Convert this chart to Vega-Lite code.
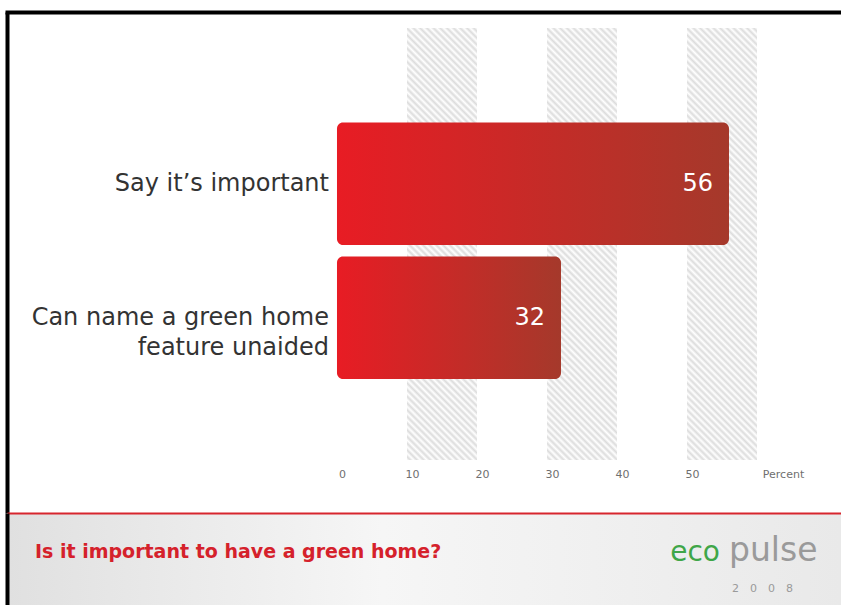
{
  "$schema": "https://vega.github.io/schema/vega-lite/v6.json",
  "padding": {"left": 7, "top": 12, "right": 0, "bottom": 0},
  "background": "#ffffff",
  "spacing": 0,
  "config": {"view": {"stroke": null}, "font": "DejaVu Sans", "concat": {"spacing": 0}},
  "datasets": {
    "bars": [
      {"label": "Say it’s important", "value": 56},
      {"label": "Can name a green home\nfeature unaided", "value": 32}
    ],
    "bands": [
      {"lo": 10, "hi": 20},
      {"lo": 30, "hi": 40},
      {"lo": 50, "hi": 60}
    ]
  },
  "vconcat": [
    {
      "width": 834,
      "height": 501,
      "resolve": {"axis": {"x": "independent"}},
      "layer": [
        {
          "data": {"name": "bands"},
          "mark": {
            "type": "rect",
            "fill": {"gradient": "linear", "x1": 0, "y1": 1, "x2": 0.1835, "y2": -0.1323, "stops": [
              {"offset": 0, "color": "#ffffff"}, {"offset": 0.0067, "color": "#dcdcdc"}, {"offset": 0.0133, "color": "#ffffff"}, {"offset": 0.02, "color": "#dcdcdc"}, {"offset": 0.0267, "color": "#ffffff"}, {"offset": 0.0333, "color": "#dcdcdc"}, {"offset": 0.04, "color": "#ffffff"}, {"offset": 0.0467, "color": "#dcdcdc"}, {"offset": 0.0533, "color": "#ffffff"}, {"offset": 0.06, "color": "#dcdcdc"}, {"offset": 0.0667, "color": "#ffffff"}, {"offset": 0.0733, "color": "#dcdcdc"}, {"offset": 0.08, "color": "#ffffff"}, {"offset": 0.0867, "color": "#dcdcdc"}, {"offset": 0.0933, "color": "#ffffff"}, {"offset": 0.1, "color": "#dcdcdc"}, {"offset": 0.1067, "color": "#ffffff"}, {"offset": 0.1133, "color": "#dcdcdc"}, {"offset": 0.12, "color": "#ffffff"}, {"offset": 0.1267, "color": "#dcdcdc"}, {"offset": 0.1333, "color": "#ffffff"}, {"offset": 0.14, "color": "#dcdcdc"}, {"offset": 0.1467, "color": "#ffffff"}, {"offset": 0.1533, "color": "#dcdcdc"}, {"offset": 0.16, "color": "#ffffff"}, {"offset": 0.1667, "color": "#dcdcdc"}, {"offset": 0.1733, "color": "#ffffff"}, {"offset": 0.18, "color": "#dcdcdc"}, {"offset": 0.1867, "color": "#ffffff"}, {"offset": 0.1933, "color": "#dcdcdc"},
              {"offset": 0.2, "color": "#ffffff"}, {"offset": 0.2067, "color": "#dcdcdc"}, {"offset": 0.2133, "color": "#ffffff"}, {"offset": 0.22, "color": "#dcdcdc"}, {"offset": 0.2267, "color": "#ffffff"}, {"offset": 0.2333, "color": "#dcdcdc"}, {"offset": 0.24, "color": "#ffffff"}, {"offset": 0.2467, "color": "#dcdcdc"}, {"offset": 0.2533, "color": "#ffffff"}, {"offset": 0.26, "color": "#dcdcdc"}, {"offset": 0.2667, "color": "#ffffff"}, {"offset": 0.2733, "color": "#dcdcdc"}, {"offset": 0.28, "color": "#ffffff"}, {"offset": 0.2867, "color": "#dcdcdc"}, {"offset": 0.2933, "color": "#ffffff"}, {"offset": 0.3, "color": "#dcdcdc"}, {"offset": 0.3067, "color": "#ffffff"}, {"offset": 0.3133, "color": "#dcdcdc"}, {"offset": 0.32, "color": "#ffffff"}, {"offset": 0.3267, "color": "#dcdcdc"}, {"offset": 0.3333, "color": "#ffffff"}, {"offset": 0.34, "color": "#dcdcdc"}, {"offset": 0.3467, "color": "#ffffff"}, {"offset": 0.3533, "color": "#dcdcdc"}, {"offset": 0.36, "color": "#ffffff"}, {"offset": 0.3667, "color": "#dcdcdc"}, {"offset": 0.3733, "color": "#ffffff"}, {"offset": 0.38, "color": "#dcdcdc"}, {"offset": 0.3867, "color": "#ffffff"}, {"offset": 0.3933, "color": "#dcdcdc"},
              {"offset": 0.4, "color": "#ffffff"}, {"offset": 0.4067, "color": "#dcdcdc"}, {"offset": 0.4133, "color": "#ffffff"}, {"offset": 0.42, "color": "#dcdcdc"}, {"offset": 0.4267, "color": "#ffffff"}, {"offset": 0.4333, "color": "#dcdcdc"}, {"offset": 0.44, "color": "#ffffff"}, {"offset": 0.4467, "color": "#dcdcdc"}, {"offset": 0.4533, "color": "#ffffff"}, {"offset": 0.46, "color": "#dcdcdc"}, {"offset": 0.4667, "color": "#ffffff"}, {"offset": 0.4733, "color": "#dcdcdc"}, {"offset": 0.48, "color": "#ffffff"}, {"offset": 0.4867, "color": "#dcdcdc"}, {"offset": 0.4933, "color": "#ffffff"}, {"offset": 0.5, "color": "#dcdcdc"}, {"offset": 0.5067, "color": "#ffffff"}, {"offset": 0.5133, "color": "#dcdcdc"}, {"offset": 0.52, "color": "#ffffff"}, {"offset": 0.5267, "color": "#dcdcdc"}, {"offset": 0.5333, "color": "#ffffff"}, {"offset": 0.54, "color": "#dcdcdc"}, {"offset": 0.5467, "color": "#ffffff"}, {"offset": 0.5533, "color": "#dcdcdc"}, {"offset": 0.56, "color": "#ffffff"}, {"offset": 0.5667, "color": "#dcdcdc"}, {"offset": 0.5733, "color": "#ffffff"}, {"offset": 0.58, "color": "#dcdcdc"}, {"offset": 0.5867, "color": "#ffffff"}, {"offset": 0.5933, "color": "#dcdcdc"},
              {"offset": 0.6, "color": "#ffffff"}, {"offset": 0.6067, "color": "#dcdcdc"}, {"offset": 0.6133, "color": "#ffffff"}, {"offset": 0.62, "color": "#dcdcdc"}, {"offset": 0.6267, "color": "#ffffff"}, {"offset": 0.6333, "color": "#dcdcdc"}, {"offset": 0.64, "color": "#ffffff"}, {"offset": 0.6467, "color": "#dcdcdc"}, {"offset": 0.6533, "color": "#ffffff"}, {"offset": 0.66, "color": "#dcdcdc"}, {"offset": 0.6667, "color": "#ffffff"}, {"offset": 0.6733, "color": "#dcdcdc"}, {"offset": 0.68, "color": "#ffffff"}, {"offset": 0.6867, "color": "#dcdcdc"}, {"offset": 0.6933, "color": "#ffffff"}, {"offset": 0.7, "color": "#dcdcdc"}, {"offset": 0.7067, "color": "#ffffff"}, {"offset": 0.7133, "color": "#dcdcdc"}, {"offset": 0.72, "color": "#ffffff"}, {"offset": 0.7267, "color": "#dcdcdc"}, {"offset": 0.7333, "color": "#ffffff"}, {"offset": 0.74, "color": "#dcdcdc"}, {"offset": 0.7467, "color": "#ffffff"}, {"offset": 0.7533, "color": "#dcdcdc"}, {"offset": 0.76, "color": "#ffffff"}, {"offset": 0.7667, "color": "#dcdcdc"}, {"offset": 0.7733, "color": "#ffffff"}, {"offset": 0.78, "color": "#dcdcdc"}, {"offset": 0.7867, "color": "#ffffff"}, {"offset": 0.7933, "color": "#dcdcdc"},
              {"offset": 0.8, "color": "#ffffff"}, {"offset": 0.8067, "color": "#dcdcdc"}, {"offset": 0.8133, "color": "#ffffff"}, {"offset": 0.82, "color": "#dcdcdc"}, {"offset": 0.8267, "color": "#ffffff"}, {"offset": 0.8333, "color": "#dcdcdc"}, {"offset": 0.84, "color": "#ffffff"}, {"offset": 0.8467, "color": "#dcdcdc"}, {"offset": 0.8533, "color": "#ffffff"}, {"offset": 0.86, "color": "#dcdcdc"}, {"offset": 0.8667, "color": "#ffffff"}, {"offset": 0.8733, "color": "#dcdcdc"}, {"offset": 0.88, "color": "#ffffff"}, {"offset": 0.8867, "color": "#dcdcdc"}, {"offset": 0.8933, "color": "#ffffff"}, {"offset": 0.9, "color": "#dcdcdc"}, {"offset": 0.9067, "color": "#ffffff"}, {"offset": 0.9133, "color": "#dcdcdc"}, {"offset": 0.92, "color": "#ffffff"}, {"offset": 0.9267, "color": "#dcdcdc"}, {"offset": 0.9333, "color": "#ffffff"}, {"offset": 0.94, "color": "#dcdcdc"}, {"offset": 0.9467, "color": "#ffffff"}, {"offset": 0.9533, "color": "#dcdcdc"}, {"offset": 0.96, "color": "#ffffff"}, {"offset": 0.9667, "color": "#dcdcdc"}, {"offset": 0.9733, "color": "#ffffff"}, {"offset": 0.98, "color": "#dcdcdc"}, {"offset": 0.9867, "color": "#ffffff"}, {"offset": 0.9933, "color": "#dcdcdc"}, {"offset": 1, "color": "#ffffff"}
            ]}
          },
          "encoding": {
            "x": {
              "field": "lo", "type": "quantitative",
              "scale": {"domain": [-47.14, 72.0], "nice": false, "zero": false},
              "axis": {"orient": "top", "domain": true, "domainColor": "#000000", "domainWidth": 4, "domainCap": "square", "labels": false, "ticks": false, "grid": false, "title": null}
            },
            "x2": {"field": "hi"},
            "y": {
              "datum": "Say it’s important", "type": "nominal", "bandPosition": -0.7735,
              "scale": {"domain": ["Say it’s important", "Can name a green home\nfeature unaided"], "paddingInner": 0.0873, "paddingOuter": 0.913, "align": 0.452},
              "axis": {"orient": "left", "domain": true, "domainColor": "#000000", "domainWidth": 4, "labels": false, "ticks": false, "grid": false, "title": null}
            },
            "y2": {"datum": "Can name a green home\nfeature unaided", "bandPosition": 1.663}
          }
        },
        {
          "data": {"name": "bars"},
          "mark": {
            "type": "bar", "cornerRadius": 6,
            "fill": {"gradient": "linear", "x1": 0, "y1": 0, "x2": 1, "y2": 0, "stops": [{"offset": 0, "color": "#e81c24"}, {"offset": 1, "color": "#a5392b"}]}
          },
          "encoding": {
            "x": {
              "field": "value", "type": "quantitative",
              "axis": {"orient": "bottom", "values": [0, 10, 20, 30, 40, 50], "domain": false, "ticks": false, "grid": false, "labelFontSize": 11, "labelColor": "#6f6f6f", "labelPadding": 2, "labelOffset": 5, "offset": -47, "title": "Percent", "titleFontSize": 11, "titleFontWeight": "normal", "titleColor": "#6f6f6f", "titleX": 776, "titleY": 2, "titleBaseline": "top", "titleAlign": "center"}
            },
            "x2": {"datum": 0},
            "y": {"field": "label", "type": "nominal"}
          }
        },
        {
          "data": {"name": "bars"},
          "mark": {"type": "text", "align": "right", "baseline": "middle", "dx": -16, "fontSize": 24, "color": "#ffffff"},
          "encoding": {
            "x": {"field": "value", "type": "quantitative", "axis": null},
            "y": {"field": "label", "type": "nominal"},
            "text": {"field": "value"}
          }
        },
        {
          "data": {"name": "bars"},
          "mark": {"type": "text", "align": "right", "baseline": "middle", "dx": -8, "fontSize": 24, "lineBreak": "\n", "lineHeight": 30, "color": "#333333"},
          "encoding": {
            "x": {"datum": 0, "type": "quantitative", "axis": null},
            "y": {"field": "label", "type": "nominal"},
            "text": {"field": "label"}
          }
        }
      ]
    },
    {
      "width": 834,
      "height": 92,
      "view": {"stroke": null, "fill": {"gradient": "linear", "x1": 0, "y1": 0, "x2": 1, "y2": 0, "stops": [{"offset": 0, "color": "#e0e0e0"}, {"offset": 0.45, "color": "#f6f6f6"}, {"offset": 1, "color": "#e9e9e9"}]}},
      "layer": [
        {
          "data": {"values": [{"slot": "left", "row": "main", "text": "Is it important to have a green home?"}]},
          "mark": {"type": "text", "align": "left", "baseline": "alphabetic", "dx": 28, "dy": 1, "fontSize": 19, "fontWeight": "bold", "color": "#d5212b"},
          "encoding": {
            "x": {
              "field": "slot", "type": "nominal", "bandPosition": 0,
              "scale": {"type": "band", "domain": ["left", "right"], "paddingInner": 0, "paddingOuter": 0},
              "axis": {"orient": "top", "domain": true, "domainColor": "#d7262e", "domainWidth": 2, "labels": false, "ticks": false, "grid": false, "title": null}
            },
            "y": {
              "field": "row", "type": "nominal",
              "scale": {"type": "point", "domain": ["main", "sub"], "padding": 0.814, "align": 0.772},
              "axis": {"orient": "left", "domain": true, "domainColor": "#000000", "domainWidth": 4, "labels": false, "ticks": false, "grid": false, "title": null}
            },
            "text": {"field": "text"}
          }
        },
        {
          "data": {"values": [{"slot": "right", "row": "main", "text": "eco"}]},
          "mark": {"type": "text", "align": "right", "baseline": "alphabetic", "dx": -121, "dy": 4, "fontSize": 28, "color": "#3fa648"},
          "encoding": {
            "x": {"field": "slot", "type": "nominal", "bandPosition": 1},
            "y": {"field": "row", "type": "nominal"},
            "text": {"field": "text"}
          }
        },
        {
          "data": {"values": [{"slot": "right", "row": "main", "text": "pulse"}]},
          "mark": {"type": "text", "align": "left", "baseline": "alphabetic", "dx": -112, "dy": 4, "fontSize": 33, "color": "#9a9a9a"},
          "encoding": {
            "x": {"field": "slot", "type": "nominal", "bandPosition": 1},
            "y": {"field": "row", "type": "nominal"},
            "text": {"field": "text"}
          }
        },
        {
          "data": {"values": [{"slot": "right", "row": "sub", "text": "2\u20030\u20030\u20038"}]},
          "mark": {"type": "text", "align": "right", "baseline": "alphabetic", "dx": -48, "fontSize": 11, "color": "#9a9a9a"},
          "encoding": {
            "x": {"field": "slot", "type": "nominal", "bandPosition": 1},
            "y": {"field": "row", "type": "nominal"},
            "text": {"field": "text"}
          }
        }
      ]
    }
  ]
}
